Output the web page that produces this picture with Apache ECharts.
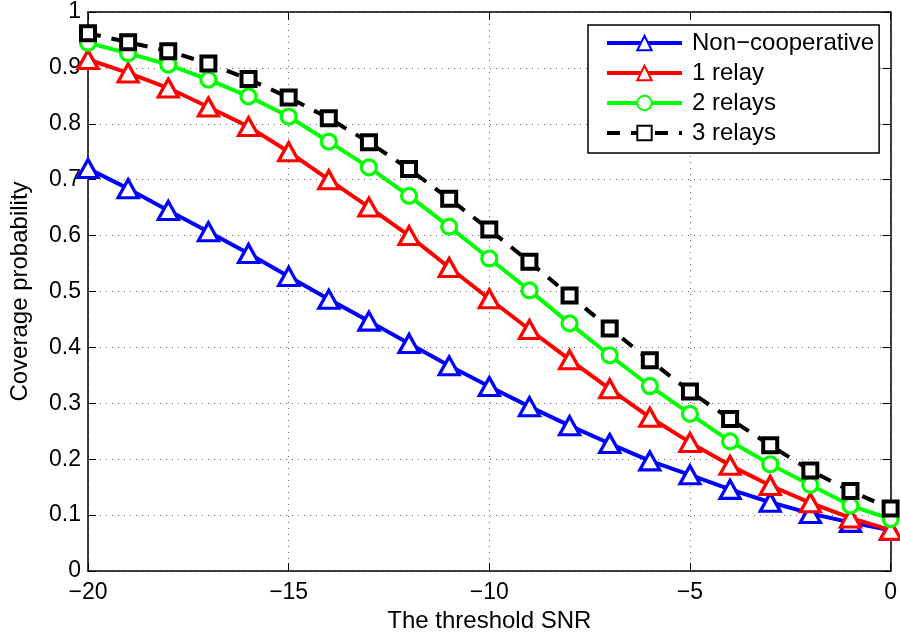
<!DOCTYPE html>
<html>
<head>
<meta charset="utf-8">
<script src="https://cdn.jsdelivr.net/npm/echarts@6/dist/echarts.min.js"></script>
<style>html,body{margin:0;padding:0;background:#fff}#c{width:900px;height:640px}</style>
</head>
<body>
<div id="c"></div>
<script>
const snr = [-20,-19,-18,-17,-16,-15,-14,-13,-12,-11,-10,-9,-8,-7,-6,-5,-4,-3,-2,-1,0];
const nonCoop = [0.720,0.684,0.645,0.607,0.568,0.527,0.486,0.447,0.407,0.367,0.330,0.294,0.260,0.228,0.197,0.172,0.146,0.123,0.103,0.087,0.073];
const relay1 = [0.915,0.891,0.864,0.830,0.795,0.750,0.700,0.651,0.600,0.543,0.487,0.432,0.378,0.326,0.275,0.230,0.189,0.153,0.122,0.095,0.073];
const relays2 = [0.945,0.926,0.906,0.879,0.849,0.813,0.768,0.722,0.671,0.616,0.559,0.502,0.443,0.386,0.331,0.281,0.232,0.191,0.154,0.117,0.093];
const relays3 = [0.962,0.946,0.930,0.908,0.880,0.847,0.810,0.767,0.719,0.666,0.611,0.553,0.493,0.434,0.377,0.321,0.272,0.225,0.180,0.143,0.112];
const seriesNames = ['Non\u2212cooperative','1 relay','2 relays','3 relays'];
const xTicks = [-20,-15,-10,-5,0];
const yTicks = [0,0.1,0.2,0.3,0.4,0.5,0.6,0.7,0.8,0.9,1];

const FONT = 'Liberation Sans, Arial, sans-serif';
const chart = echarts.init(document.getElementById('c'), null, {renderer:'canvas'});
const pair = arr => snr.map((x,i)=>[x,arr[i]]);
const grid = {left:88, right:9, top:12, bottom:69};
const dots = {show:true, lineStyle:{color:'#666', width:1, type:[1,5]}};
const mk = (name, data, color, symbol, size, dashed) => ({
  name, type:'line', data: pair(data), symbol, symbolSize:size,
  showSymbol:true, animation:false,
  lineStyle:{color, width:4, type: dashed ? [13,11] : 'solid'},
  itemStyle:{color:'#fff', borderColor:color, borderWidth: dashed ? 4 : 3.2},
  z: 3
});
chart.setOption({
  backgroundColor:'#fff',
  animation:false,
  grid,
  legend:{
    orient:'vertical', left:588, top:25,
    padding:[6,5,8,17], itemGap:6, itemWidth:75, itemHeight:18,
    backgroundColor:'#fff', borderColor:'#000', borderWidth:1.5, borderRadius:0,
    textStyle:{fontFamily:FONT, fontSize:24, lineHeight:24, color:'#000', padding:[0,0,0,5]},
    lineStyle:{width:4},
    data: seriesNames
  },
  xAxis:[{
    type:'value', min:-20, max:0, interval:5,
    name:'The threshold SNR', nameLocation:'middle', nameGap:35,
    nameTextStyle:{fontFamily:FONT, fontSize:24, color:'#000'},
    axisLine:{show:true, onZero:false, lineStyle:{color:'#000', width:1.5}},
    axisTick:{show:true, inside:true, length:8, lineStyle:{color:'#000'}},
    axisLabel:{fontFamily:FONT, fontSize:23, color:'#000', margin:10,
      formatter: v => (v<0 ? '\u2212'+Math.abs(v) : String(v))},
    splitLine:dots
  },{
    type:'value', min:-20, max:0, interval:5, position:'top',
    axisLine:{show:true, onZero:false, lineStyle:{color:'#000', width:1.5}},
    axisTick:{show:true, inside:true, length:8, lineStyle:{color:'#000'}},
    axisLabel:{show:false}, splitLine:{show:false}
  }],
  yAxis:[{
    type:'value', min:0, max:1, interval:0.1,
    name:'Coverage probability', nameLocation:'middle', nameGap:56,
    nameTextStyle:{fontFamily:FONT, fontSize:24, color:'#000'},
    axisLine:{show:true, onZero:false, lineStyle:{color:'#000', width:1.5}},
    axisTick:{show:true, inside:true, length:8, lineStyle:{color:'#000'}},
    axisLabel:{fontFamily:FONT, fontSize:23, color:'#000', margin:7,
      formatter: v => String(Math.round(v*10)/10)},
    splitLine:dots
  },{
    type:'value', min:0, max:1, interval:0.1, position:'right',
    axisLine:{show:true, onZero:false, lineStyle:{color:'#000', width:1.5}},
    axisTick:{show:true, inside:true, length:8, lineStyle:{color:'#000'}},
    axisLabel:{show:false}, splitLine:{show:false}
  }],
  series:[
    mk(seriesNames[0], nonCoop, '#0000ff', 'triangle', [20,18], false),
    mk(seriesNames[1], relay1, '#ff0000', 'triangle', [20,18], false),
    mk(seriesNames[2], relays2, '#00ff00', 'circle', 15, false),
    mk(seriesNames[3], relays3, '#000000', 'rect', 14, true)
  ]
});
</script>
</body>
</html>
